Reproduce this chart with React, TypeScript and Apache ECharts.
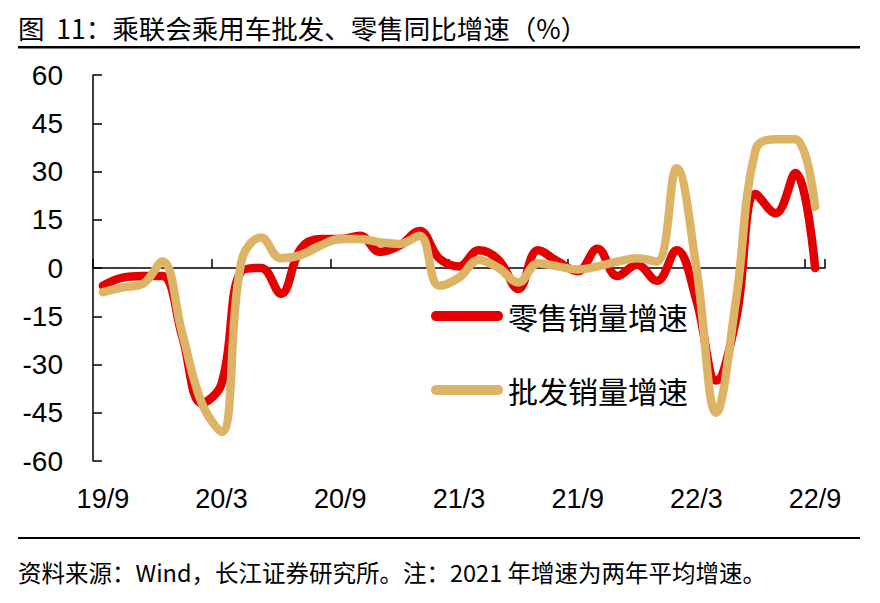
import React, { useEffect, useRef } from "react";
import * as echarts from "echarts";

const months: string[] = [
  "19/9", "19/10", "19/11", "19/12",
  "20/1", "20/2", "20/3", "20/4", "20/5", "20/6", "20/7", "20/8", "20/9", "20/10", "20/11", "20/12",
  "21/1", "21/2", "21/3", "21/4", "21/5", "21/6", "21/7", "21/8", "21/9", "21/10", "21/11", "21/12",
  "22/1", "22/2", "22/3", "22/4", "22/5", "22/6", "22/7", "22/8", "22/9",
];

const retail: number[] = [
  -5.5, -3, -2.5, -2.5,
  -21, -42, -36, -1, 0, -8, 6, 9, 9, 10, 5, 7,
  11.5, 3, 0.5, 5.5, 2.5, -6.5, 5.5, 2, -1, 6, -2.5, 1,
  -4, 5.5, -10, -35, -16, 23, 17, 29.5, 0,
];

const wholesale: number[] = [
  -7.5, -6, -5, 2,
  -20, -42, -51, 2, 9.5, 3, 4, 7, 9, 9, 8, 7.5,
  10, -5.5, -3, 2.5, 0, -4.5, 1.5, 0.5, -0.5, 0.5, 2, 3,
  2, 31, 0, -45, -10, 37, 40, 40, 19,
];

const seriesNames: string[] = ["零售销量增速", "批发销量增速"];
const titleText = "图  11：乘联会乘用车批发、零售同比增速（%）";
const sourceText = "资料来源：Wind，长江证券研究所。注：2021 年增速为两年平均增速。";

const RED = "#E20000";
const TAN = "#DDB466";
const FONT = "'Liberation Sans', Arial, 'Noto Sans CJK SC', sans-serif";
const CJK = "'Noto Sans CJK SC', 'Liberation Sans', sans-serif";

export default function App() {
  const ref = useRef<HTMLDivElement>(null);

  useEffect(() => {
    document.body.style.margin = "0";
    if (!ref.current) return;
    const chart = echarts.init(ref.current, undefined, { renderer: "svg" });
    const capsule = "path://M4.5,0L65.5,0A4.5,4.5,0,0,1,65.5,9L4.5,9A4.5,4.5,0,0,1,4.5,0Z";
    chart.setOption({
      animation: false,
      backgroundColor: "#ffffff",
      textStyle: { fontFamily: FONT },
      grid: { left: 93, right: 55, top: 75, bottom: 142, containLabel: false },
      legend: [
        {
          data: [seriesNames[0]],
          left: 426,
          top: 296,
          icon: capsule,
          itemWidth: 72,
          itemHeight: 10,
          symbolKeepAspect: false,
          textStyle: { fontSize: 30, color: "#000", fontFamily: CJK },
        },
        {
          data: [seriesNames[1]],
          left: 426,
          top: 370,
          icon: capsule,
          itemWidth: 72,
          itemHeight: 10,
          symbolKeepAspect: false,
          textStyle: { fontSize: 30, color: "#000", fontFamily: CJK },
        },
      ],
      xAxis: [
        {
          type: "category",
          data: months,
          boundaryGap: true,
          axisLine: { onZero: true, lineStyle: { color: "#000", width: 1.5 } },
          axisTick: { show: true, inside: true, interval: 5, length: 9, lineStyle: { color: "#000", width: 1.5 } },
          axisLabel: { show: false },
          splitLine: { show: false },
        },
        {
          type: "category",
          data: months,
          position: "bottom",
          boundaryGap: true,
          axisLine: { show: false, onZero: false },
          axisTick: { show: false },
          axisLabel: { interval: 5, fontSize: 27, color: "#000", margin: 24, fontFamily: FONT },
          splitLine: { show: false },
        },
      ],
      yAxis: {
        type: "value",
        min: -60,
        max: 60,
        interval: 15,
        axisLine: { show: true, lineStyle: { color: "#000", width: 1.5 } },
        axisTick: { show: true, inside: true, length: 9, lineStyle: { color: "#000", width: 1.5 } },
        axisLabel: { fontSize: 28, color: "#000", margin: 30, fontFamily: FONT },
        splitLine: { show: false },
      },
      series: [
        {
          name: seriesNames[0],
          type: "line",
          data: retail,
          xAxisIndex: 0,
          smooth: 0.4,
          symbol: "none",
          lineStyle: { color: RED, width: 8.5, cap: "round", join: "round" },
          itemStyle: { color: RED },
          z: 2,
        },
        {
          name: seriesNames[1],
          type: "line",
          data: wholesale,
          xAxisIndex: 0,
          smooth: 0.4,
          symbol: "none",
          lineStyle: { color: TAN, width: 8.5, cap: "round", join: "round" },
          itemStyle: { color: TAN },
          z: 3,
        },
      ],
      graphic: [
        {
          type: "text",
          left: 18,
          top: 14,
          style: { text: titleText, fontSize: 26.5, fill: "#000", fontFamily: CJK },
        },
        {
          type: "rect",
          shape: { x: 18, y: 46, width: 842, height: 2.5 },
          style: { fill: "#000" },
        },
        {
          type: "rect",
          shape: { x: 18, y: 537, width: 842, height: 2 },
          style: { fill: "#000" },
        },
        {
          type: "text",
          left: 18,
          top: 560,
          style: { text: sourceText, fontSize: 23.5, fill: "#000", fontFamily: CJK },
        },
      ],
    });
    return () => chart.dispose();
  }, []);

  return <div ref={ref} style={{ width: 880, height: 603 }} />;
}
